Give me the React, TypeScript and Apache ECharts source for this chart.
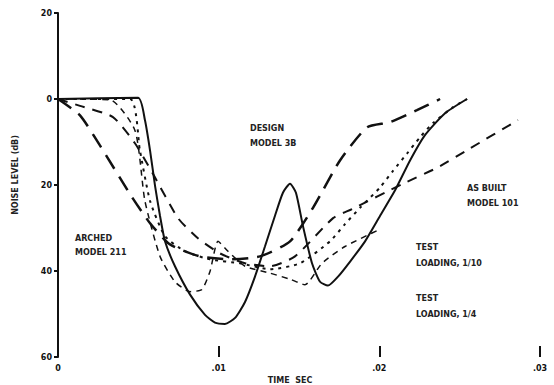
import React, { useEffect, useRef } from "react";
import * as echarts from "echarts";

const xTicks = [0, 0.01, 0.02, 0.03];
const yTicks = [20, 0, -20, -40, -60];

const solidX = [0, 0.00498, 0.00541, 0.00573, 0.00604, 0.00635, 0.00666, 0.00728, 0.00822, 0.00915, 0.00977, 0.01039, 0.01102, 0.01164, 0.01226, 0.01288, 0.0135, 0.014, 0.01444, 0.01481, 0.01525, 0.01581, 0.01631, 0.0168, 0.01743, 0.01818, 0.01911, 0.02004, 0.02097, 0.02191, 0.02284, 0.02409, 0.02546];
const solidY = [0, 0.3, -4.9, -12.0, -20.2, -27.2, -33.1, -38.9, -45.5, -50.2, -52.0, -52.3, -50.9, -47.2, -41.3, -34.3, -27.2, -21.8, -19.7, -21.8, -29.6, -38.2, -42.5, -43.4, -41.3, -37.8, -33.1, -27.2, -21.3, -14.3, -8.4, -3.3, 0];

const longDashX = [0, 0.00137, 0.00261, 0.00448, 0.00573, 0.00697, 0.00884, 0.0107, 0.01257, 0.01444, 0.01587, 0.01755, 0.01923, 0.02066, 0.02234, 0.02378];
const longDashY = [0, -3.8, -10.8, -22.1, -28.9, -33.8, -36.6, -37.3, -36.6, -33.1, -25.3, -14.3, -6.6, -5.4, -2.6, 0];

const dashX = [0, 0.00137, 0.00342, 0.00479, 0.00591, 0.00747, 0.00871, 0.01008, 0.01164, 0.0132, 0.01475, 0.01712, 0.0183, 0.02147, 0.02359, 0.02564, 0.02863];
const dashY = [0, -1.6, -4.2, -10.3, -17.4, -27.7, -32.4, -35.9, -38.2, -38.9, -36.6, -27.7, -25.6, -19.7, -16.0, -11.5, -4.9];

const dotX = [0, 0.00448, 0.0051, 0.00573, 0.00666, 0.0079, 0.00946, 0.01133, 0.0132, 0.01506, 0.01693, 0.01786, 0.0188, 0.02004, 0.02085, 0.02172, 0.02253, 0.02334, 0.02459, 0.02546];
const dotY = [0, 0, -12.0, -23.7, -31.9, -35.4, -37.3, -38.2, -39.6, -38.2, -33.1, -29.1, -25.3, -20.6, -16.7, -12.7, -8.9, -5.6, -1.9, 0];

const shortDashX = [0, 0.00324, 0.00479, 0.00541, 0.00635, 0.00728, 0.00822, 0.00896, 0.00946, 0.00996, 0.01058, 0.01164, 0.0132, 0.01444, 0.01537, 0.01643, 0.01786, 0.02004];
const shortDashY = [0, -0.2, -7.3, -23.7, -36.6, -42.5, -44.8, -44.3, -40.1, -33.1, -35.4, -38.9, -40.5, -41.9, -43.2, -38.2, -34.3, -30.3];

const notes = [
  { x: 250, y: 128, t: "DESIGN" },
  { x: 250, y: 143, t: "MODEL 3B" },
  { x: 75, y: 238, t: "ARCHED" },
  { x: 75, y: 252, t: "MODEL 211" },
  { x: 467, y: 188, t: "AS BUILT" },
  { x: 467, y: 203, t: "MODEL 101" },
  { x: 416, y: 247, t: "TEST" },
  { x: 416, y: 263, t: "LOADING, 1/10" },
  { x: 416, y: 298, t: "TEST" },
  { x: 416, y: 314, t: "LOADING, 1/4" },
];

const zip = (xs: number[], ys: number[]) => xs.map((x, i) => [x, ys[i]]);

export default function App() {
  const ref = useRef<HTMLDivElement>(null);
  useEffect(() => {
    const chart = echarts.init(ref.current!, null, { renderer: "svg" });
    const font = "DejaVu Sans";
    const line = (name: string, xs: number[], ys: number[], type: any, width: number) => ({
      name,
      type: "line",
      data: zip(xs, ys),
      showSymbol: false,
      smooth: 0.2,
      lineStyle: { color: "#111", width, type, cap: "butt" },
    });
    chart.setOption({
      animation: false,
      backgroundColor: "#fff",
      grid: { left: 58, right: 14, top: 13, bottom: 28 },
      xAxis: {
        type: "value",
        min: xTicks[0],
        max: xTicks[xTicks.length - 1],
        interval: 0.01,
        axisLine: { show: false, onZero: false },
        axisTick: { show: true, inside: true, length: 11, lineStyle: { color: "#111", width: 2 } },
        splitLine: { show: false },
        axisLabel: {
          margin: 7,
          fontSize: 8,
          fontWeight: "bold",
          fontFamily: font,
          color: "#111",
          formatter: (v: number) => (v === 0 ? "0" : "." + String(Math.round(v * 100)).padStart(2, "0")),
        },
      },
      yAxis: {
        type: "value",
        min: yTicks[yTicks.length - 1],
        max: yTicks[0],
        interval: 20,
        axisLine: { show: true, onZero: false, lineStyle: { color: "#111", width: 2 } },
        axisTick: { show: true, length: 4, lineStyle: { color: "#111", width: 2 } },
        splitLine: { show: false },
        axisLabel: {
          margin: 6,
          fontSize: 8,
          fontWeight: "bold",
          fontFamily: font,
          color: "#111",
          formatter: (v: number) => String(Math.abs(v)),
        },
      },
      series: [
        line("solid", solidX, solidY, "solid", 2),
        line("longdash", longDashX, longDashY, [16, 9], 2.5),
        line("dash", dashX, dashY, [10, 8], 2),
        line("dot", dotX, dotY, [3, 5], 2),
        line("shortdash", shortDashX, shortDashY, [6, 5], 1.5),
      ],
      graphic: [
        ...notes.map((n) => ({
          type: "text",
          x: n.x,
          y: n.y,
          style: { text: n.t, fontSize: 8, fontWeight: "bold", fontFamily: font, fill: "#222", verticalAlign: "middle" },
        })),
        {
          type: "text",
          x: 15,
          y: 175,
          rotation: Math.PI / 2,
          style: { text: "NOISE LEVEL (dB)", fontSize: 8, fontWeight: "bold", fontFamily: font, fill: "#222", align: "center", verticalAlign: "middle" },
        },
        {
          type: "text",
          x: 290,
          y: 380,
          style: { text: "TIME  SEC", fontSize: 8, fontWeight: "bold", fontFamily: font, fill: "#222", align: "center", verticalAlign: "middle" },
        },
      ],
    });
    return () => chart.dispose();
  }, []);
  return <div ref={ref} style={{ position: "fixed", left: 0, top: 0, width: 554, height: 385 }} />;
}
